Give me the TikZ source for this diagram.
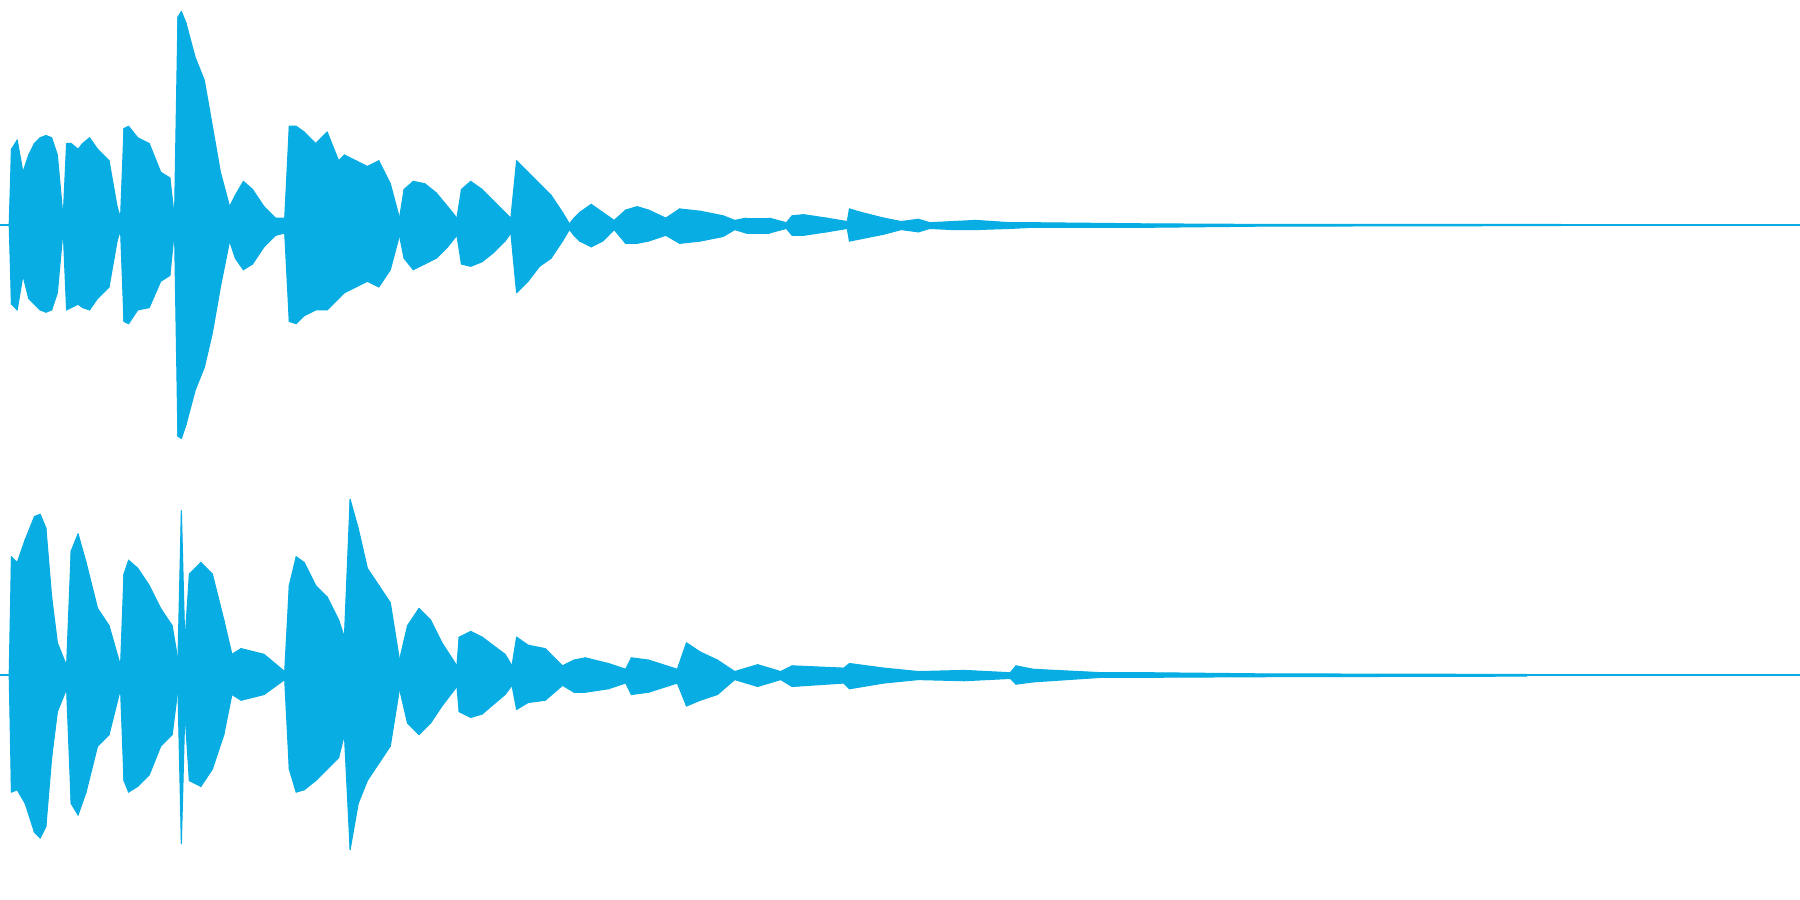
\documentclass[tikz,border=0pt]{standalone}
\definecolor{wavecol}{rgb}{0.03,0.68,0.89}
\tikzset{
  wave/.style={fill=wavecol,draw=wavecol,line width=0.3pt,line join=round},
  baseline/.style={draw=wavecol,line width=0.5pt},
}
% one channel: x/upper/lower in pixel units
\newcommand{\wavechannel}[2]{%
  \foreach \x/\u/\l [remember=\x as \px (initially 8),
                     remember=\u as \pu (initially #1),
                     remember=\l as \pl (initially #1)] in {#2}
    {\filldraw[wave] (\px,\pu) -- (\x,\u) -- (\x,\l) -- (\px,\pl) -- cycle;}%
}
\begin{document}
\begin{tikzpicture}[x=0.01148cm,y=-0.01148cm]
  \useasboundingbox (0,0) rectangle (1568,784);

  \coordinate (topl) at (0,196);
  \coordinate (topr) at (1568,196);
  \coordinate (botl) at (0,588);
  \coordinate (botr) at (1568,588);
  \draw[baseline] (topl) -- (topr);
  \draw[baseline] (botl) -- (botr);

  %% upper channel
  \wavechannel{196}{10/130/265,15/122/270,20/150/240,25/135/260,30/125/265,35/120/270,
    40/118/272,45/120/270,50/135/255,55/190/200,58/125/270,62/125/268,68/130/265,
    72/125/268,78/120/270,85/130/260,95/140/250,102/180/210,105/190/200,108/112/280,
    112/110/282,120/120/270,130/125/268,140/150/245,148/155/240,152/190/200,155/15/380,
    158/10/382,162/20/370,170/50/340,178/70/320,185/110/290,192/150/250,200/180/210,
    205/170/225,212/158/235,220/165/230,230/180/215,240/190/205,248/190/203,252/110/280,
    258/110/282,265/115/275,275/125/270,285/115/270,295/140/260,300/135/255,310/140/250,
    320/145/245,330/140/250,340/160/235,348/190/205,352/165/225,360/158/235,370/160/230,
    380/168/225,390/180/215,398/190/205,402/165/230,410/158/232,420/165/228,430/175/220,
    440/185/210,445/190/203,450/140/255,460/150/245,470/160/232,480/170/225,490/185/210,
    496/195/200,500/190/205,505/185/210,515/178/215,525/185/210,535/192/200,545/183/212,
    555/180/212,565/183/210,580/190/205,592/182/212,610/184/210,630/188/206,640/192/200,
    650/190/203,670/190/203,685/194/199,690/188/205,700/187/205,720/190/202,738/193/199,
    740/182/210,750/185/208,770/190/204,785/193/200,800/191/202,810/194/199,830/193/200,
    850/192/200,880/194/199,900/194/198,1000/195/198,1100/195.5/197,1360/195.5/196.5}

  %% lower channel
  \wavechannel{588}{10/485/690,15/490/688,22/470/700,30/450/725,35/448/730,40/460/720,
    45/520/660,50/560/620,58/580/600,62/480/700,68/465/710,75/490/690,85/530/650,
    95/545/640,105/580/600,108/500/680,112/488/690,120/495/685,130/510/675,140/530/650,
    150/545/640,155/575/600,158/445/735,161/560/620,165/500/680,175/490/685,185/500/670,
    195/540/640,202/570/605,210/565/610,230/570/605,248/585/592,252/510/670,258/485/690,
    265/490/688,275/510/680,285/520/670,295/540/660,300/555/640,305/435/740,312/460/700,
    320/495/680,330/510/665,340/525/650,348/575/600,355/545/630,365/530/640,375/540/630,
    385/560/615,398/580/598,400/555/620,410/550/625,420/555/622,440/570/605,446/580/597,
    450/555/618,460/562/612,475/565/610,490/580/597,500/575/603,510/573/603,530/578/600,
    545/583/595,550/573/605,565/575/603,590/583/595,598/560/615,610/568/610,625/575/605,
    640/585/592,660/579/598,680/585/592,690/580/598,735/582/595,740/578/600,770/582/595,
    800/585/592,840/584/593,880/586/591,885/580/596,900/583/594,960/586/590,1000/586/590,
    1100/587/589.5,1330/587.5/589}
\end{tikzpicture}
\end{document}
